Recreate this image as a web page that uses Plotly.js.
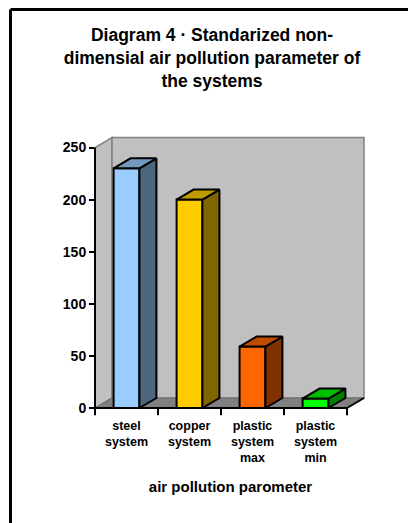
<!DOCTYPE html>
<html>
<head>
<meta charset="utf-8">
<script src="https://cdn.plot.ly/plotly-3.0.1.min.js"></script>
<style>
  html, body { margin: 0; padding: 0; background: #ffffff; }
  #chart { width: 408px; height: 523px; }
</style>
</head>
<body>
<div id="chart"></div>
<script>
// Category labels and values
const categories = ['steel<br>system', 'copper<br>system', 'plastic<br>system<br>max', 'plastic<br>system<br>min'];
const values = [230, 200, 59, 9];
const yTicks = [0, 50, 100, 150, 200, 250];
const chartTitle = 'Diagram 4 · Standarized non-<br>dimensial air pollution parameter of<br>the systems';
const xTitle = 'air pollution parometer';

// Face colours: front, right side (darker), top (mid tone)
const frontColors = ['#99CCFF', '#FFCC00', '#FF6600', '#00FF00'];
const sideColors  = ['#4C6680', '#806600', '#803300', '#008000'];
const topColors   = ['#7399BF', '#BF9900', '#BF4C00', '#00BF00'];

// Canvas and plot-area geometry (pixels)
const W = 408, H = 523;
const M = { l: 95, r: 42, t: 134, b: 107 };
const plotW = W - M.l - M.r, plotH = H - M.t - M.b;
const PX_PER_CAT = 63;                 // horizontal pixels per category
const PX_PER_UNIT = 260.5 / 250;       // vertical pixels per value unit
const ZERO_FROM_BOTTOM = 8;            // pixels between value 0 and plot bottom

const xRange = [-0.5, -0.5 + plotW / PX_PER_CAT];
const yRange = [-ZERO_FROM_BOTTOM / PX_PER_UNIT, (plotH - ZERO_FROM_BOTTOM) / PX_PER_UNIT];

// 3D depth offset, converted from pixels to data units
const DX = 17 / PX_PER_CAT;
const DY = 10 / PX_PER_UNIT;
const BAR_W = 0.41;
const HW = BAR_W / 2;

const x0 = -0.5;
const xEnd = categories.length - 0.5;
const yTop = yTicks[yTicks.length - 1];
const tickDrop = -7;

// pixel -> paper helpers for decorations outside the plot area
const pxX = px => (px - M.l) / plotW;
const pxY = py => (H - M.b - py) / plotH;

const bold = { family: 'Liberation Sans, Arial, sans-serif', color: '#000', weight: 'bold' };

const traces = [];

// front faces
traces.push({
  type: 'bar',
  x: categories.map((_, i) => i),
  y: values,
  width: BAR_W,
  marker: { color: frontColors, line: { color: '#000', width: 2 } },
  hoverinfo: 'skip',
  showlegend: false
});

// side and top faces of each column
values.forEach((v, i) => {
  const xl = i - HW, xr = i + HW;
  traces.push({
    type: 'scatter', mode: 'lines', fill: 'toself',
    x: [xr, xr + DX, xr + DX, xr, xr],
    y: [0, DY, v + DY, v, 0],
    fillcolor: sideColors[i],
    line: { color: '#000', width: 2 },
    hoverinfo: 'skip', showlegend: false
  });
  traces.push({
    type: 'scatter', mode: 'lines', fill: 'toself',
    x: [xl, xl + DX, xr + DX, xr, xl],
    y: [v, v + DY, v + DY, v, v],
    fillcolor: topColors[i],
    line: { color: '#000', width: 2 },
    hoverinfo: 'skip', showlegend: false
  });
});

const shapes = [];
// side wall
shapes.push({
  type: 'path', xref: 'x', yref: 'y', layer: 'below',
  path: `M${x0},0 L${x0 + DX},${DY} L${x0 + DX},${yTop + DY} L${x0},${yTop} Z`,
  fillcolor: '#C0C0C0', line: { color: '#808080', width: 1.5 }
});
// back wall
shapes.push({
  type: 'rect', xref: 'x', yref: 'y', layer: 'below',
  x0: x0 + DX, x1: xEnd + DX, y0: DY, y1: yTop + DY,
  fillcolor: '#C0C0C0', line: { color: '#808080', width: 1.5 }
});
// floor
shapes.push({
  type: 'path', xref: 'x', yref: 'y', layer: 'below',
  path: `M${x0},0 L${xEnd},0 L${xEnd + DX},${DY} L${x0 + DX},${DY} Z`,
  fillcolor: '#808080', line: { color: '#6E6E6E', width: 1 }
});
// front axis lines
shapes.push({
  type: 'line', xref: 'paper', yref: 'y', layer: 'above',
  x0: 0, x1: 0, y0: tickDrop, y1: yTop,
  line: { color: '#000', width: 2 }
});
shapes.push({
  type: 'line', xref: 'x', yref: 'y', layer: 'above',
  x0: x0, x1: xEnd, y0: 0, y1: 0,
  line: { color: '#000', width: 2 }
});
shapes.push({
  type: 'line', xref: 'x', yref: 'y', layer: 'above',
  x0: xEnd, x1: xEnd + DX, y0: 0, y1: DY,
  line: { color: '#000', width: 2 }
});
// category boundary ticks
for (let b = x0 + 1; b <= xEnd + 1e-9; b += 1) {
  shapes.push({
    type: 'line', xref: 'x', yref: 'y', layer: 'above',
    x0: b, x1: b, y0: 0, y1: tickDrop,
    line: { color: '#000', width: 2 }
  });
}
// chart frame (left and top edges)
shapes.push({
  type: 'line', xref: 'paper', yref: 'paper',
  x0: pxX(10.5), x1: pxX(10.5), y0: pxY(9.5), y1: pxY(H + 5),
  line: { color: '#000', width: 3 }
});
shapes.push({
  type: 'line', xref: 'paper', yref: 'paper',
  x0: pxX(10.5), x1: pxX(W + 5), y0: pxY(9.5), y1: pxY(9.5),
  line: { color: '#000', width: 3 }
});

const layout = {
  width: W, height: H,
  margin: M,
  paper_bgcolor: '#fff', plot_bgcolor: '#fff',
  showlegend: false,
  title: {
    text: chartTitle,
    font: Object.assign({}, bold, { size: 17.5 }),
    x: 212 / W, xref: 'container', xanchor: 'center',
    y: 1 - 41 / H, yref: 'container', yanchor: 'top'
  },
  xaxis: {
    range: xRange, fixedrange: true,
    tickmode: 'array', tickvals: categories.map((_, i) => i), ticktext: categories,
    ticks: '', showline: false, showgrid: false, zeroline: false,
    tickfont: Object.assign({}, bold, { size: 12.5 }),
    title: { text: xTitle, font: Object.assign({}, bold, { size: 15 }), standoff: 17 }
  },
  yaxis: {
    range: yRange, fixedrange: true,
    tickmode: 'array', tickvals: yTicks,
    ticks: 'outside', ticklen: 5, tickwidth: 2, tickcolor: '#000',
    showline: false, showgrid: false, zeroline: false,
    tickfont: Object.assign({}, bold, { size: 14 })
  },
  shapes: shapes
};

Plotly.newPlot('chart', traces, layout, { displayModeBar: false, staticPlot: true });
</script>
</body>
</html>
